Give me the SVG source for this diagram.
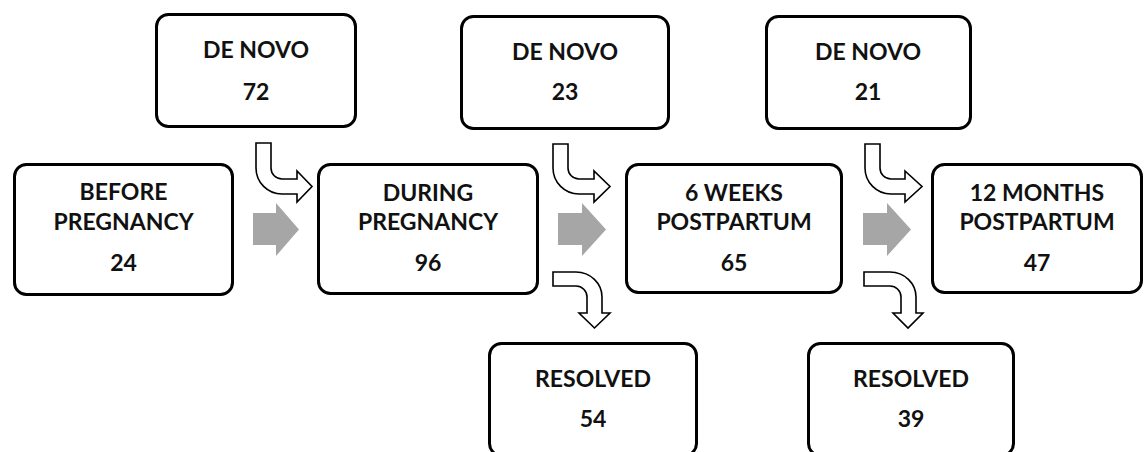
<svg xmlns="http://www.w3.org/2000/svg" width="1145" height="452" viewBox="0 0 1145 452">
<style>
.box{fill:#fff;stroke:#000;stroke-width:3}
.t{font-family:Lato,"Open Sans","Liberation Sans",sans-serif;font-weight:bold;font-size:23px;fill:#111;text-anchor:middle}
.hollow{fill:#fff;stroke:#000;stroke-width:1.6;stroke-linejoin:miter}
.gray{fill:#a6a6a6;stroke:none}
</style>
<rect width="1145" height="452" fill="#fff"/>
<g id="connectors">
<path class="gray" d="M253,213 H276 V203 L299,229.5 L276,256 V245 H253 Z"/>
<path class="gray" d="M558,213 H582 V203 L606,229.5 L582,256 V245 H558 Z"/>
<path class="gray" d="M863,213 H887 V203 L911,229.5 L887,256 V245 H863 Z"/>
<path class="hollow" d="M256,143 H271 V168 A11 11 0 0 0 282,179 H297 V171 L312,186.5 L297,202 V194 H282 A26 26 0 0 1 256,168 Z"/>
<path class="hollow" d="M553,144 H568 V168 A11 11 0 0 0 579,179 H594 V171 L610,186.5 L594,202 V194 H579 A26 26 0 0 1 553,168 Z"/>
<path class="hollow" d="M865,144 H880 V168 A11 11 0 0 0 891,179 H905 V171 L922,186.5 L905,202 V194 H891 A26 26 0 0 1 865,168 Z"/>
<path class="hollow" d="M553,272 H576 A26 25 0 0 1 602,297 V313 H610 L594.5,328 L579,313 H587 V297 A11 11 0 0 0 576,286 H553 Z"/>
<path class="hollow" d="M864,272 H890 A26 25 0 0 1 916,297 V313 H923 L908,328 L893,313 H901 V297 A11 11 0 0 0 890,286 H864 Z"/>
</g>
<g id="before">
<rect class="box" x="14.5" y="164.5" width="218" height="130" rx="12"/>
<text class="t" x="123.5" y="200">BEFORE</text>
<text class="t" x="123.5" y="230">PREGNANCY</text>
<text class="t" x="123.5" y="271">24</text>
</g>
<g id="during">
<rect class="box" x="318.5" y="164.5" width="219" height="129" rx="12"/>
<text class="t" x="428" y="201">DURING</text>
<text class="t" x="428" y="230">PREGNANCY</text>
<text class="t" x="428" y="271">96</text>
</g>
<g id="weeks6">
<rect class="box" x="626.5" y="164.5" width="215" height="128" rx="12"/>
<text class="t" x="734" y="201">6 WEEKS</text>
<text class="t" x="734" y="230">POSTPARTUM</text>
<text class="t" x="734" y="271">65</text>
</g>
<g id="months12">
<rect class="box" x="932.5" y="164.5" width="209" height="128" rx="12"/>
<text class="t" x="1037" y="201">12 MONTHS</text>
<text class="t" x="1037" y="230">POSTPARTUM</text>
<text class="t" x="1037" y="271">47</text>
</g>
<g id="denovo1">
<rect class="box" x="156.5" y="14.5" width="199" height="112" rx="12"/>
<text class="t" x="256" y="58">DE NOVO</text>
<text class="t" x="256" y="100">72</text>
</g>
<g id="denovo2">
<rect class="box" x="461.5" y="16.5" width="207" height="112" rx="12"/>
<text class="t" x="565" y="60">DE NOVO</text>
<text class="t" x="565" y="100">23</text>
</g>
<g id="denovo3">
<rect class="box" x="766.5" y="16.5" width="204" height="112" rx="12"/>
<text class="t" x="868" y="60">DE NOVO</text>
<text class="t" x="868" y="100">21</text>
</g>
<g id="resolved1">
<rect class="box" x="489.5" y="343.5" width="207" height="112" rx="12"/>
<text class="t" x="593" y="387">RESOLVED</text>
<text class="t" x="593" y="427">54</text>
</g>
<g id="resolved2">
<rect class="box" x="808.5" y="343.5" width="205" height="112" rx="12"/>
<text class="t" x="911" y="387">RESOLVED</text>
<text class="t" x="911" y="427">39</text>
</g>
</svg>
